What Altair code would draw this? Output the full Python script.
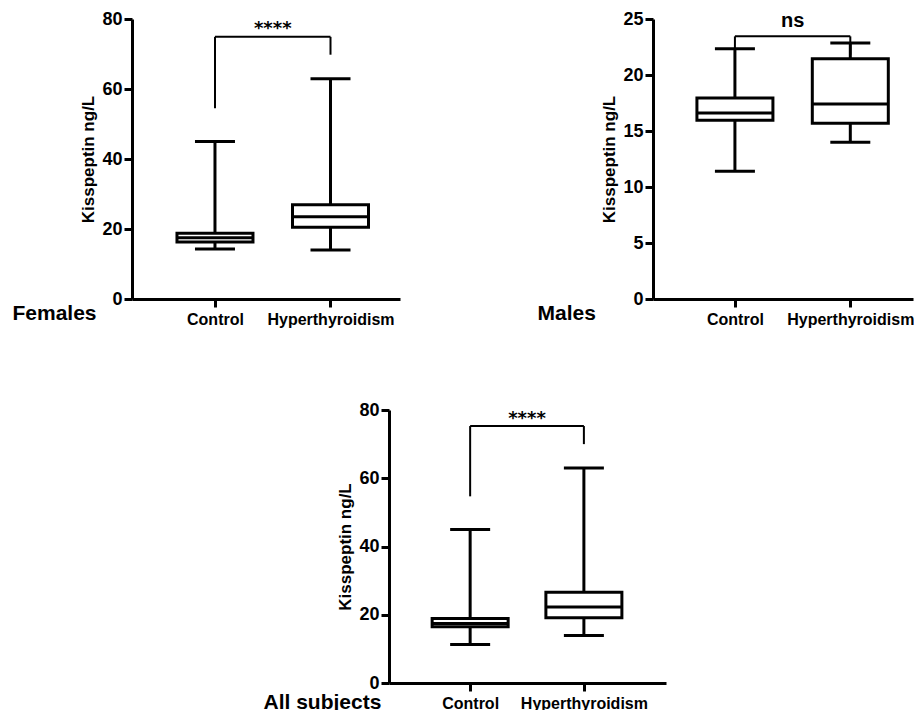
import altair as alt
import pandas as pd

groups = ["Control", "Hyperthyroidism"]
group_pos = [1, 2]

# Females: whisker low, Q1, median, Q3, whisker high
f_low = [14.3, 14.0]
f_q1 = [16.3, 20.5]
f_med = [17.5, 23.5]
f_q3 = [18.8, 26.9]
f_high = [45.0, 62.9]

# Males
m_low = [11.4, 14.0]
m_q1 = [15.95, 15.7]
m_med = [16.6, 17.4]
m_q3 = [17.95, 21.45]
m_high = [22.35, 22.85]

# All subjects
a_low = [11.3, 13.9]
a_q1 = [16.5, 19.1]
a_med = [17.4, 22.3]
a_q3 = [18.9, 26.6]
a_high = [45.0, 63.0]

panel_names = ["Females", "Males", "All subjects"]
sig_labels = ["****", "ns", "****"]
bracket_top = [74.9, 23.45, 75.3]
bracket_left_end = [54.5, 22.4, 54.7]
bracket_right_end = [69.8, 21.8, 70.0]
sig_y = [75.6, 24.3, 75.9]
y_max = [80, 25, 80]
y_ticks = [[0, 20, 40, 60, 80], [0, 5, 10, 15, 20, 25], [0, 20, 40, 60, 80]]

FONT = "Liberation Sans"
label_expr = " : ".join(
    [f"datum.value == {p} ? '{g}'" for p, g in zip(group_pos[:-1], groups[:-1])]
    + [f"'{groups[-1]}'"]
)


def panel(i, low, q1, med, q3, high, width, height, x_domain, title_x, title_y,
          sig_font, sig_size):
    df = pd.DataFrame({"group": groups, "pos": group_pos, "low": low, "q1": q1,
                       "med": med, "q3": q3, "high": high})
    br = pd.DataFrame({"x1": [group_pos[0]], "x2": [group_pos[1]],
                       "xm": [(group_pos[0] + group_pos[1]) / 2],
                       "top": [bracket_top[i]], "lend": [bracket_left_end[i]],
                       "rend": [bracket_right_end[i]], "ty": [sig_y[i]],
                       "label": [sig_labels[i]]})

    xaxis = alt.Axis(values=group_pos, labelExpr=label_expr, title=panel_names[i],
                     titleX=title_x, titleY=title_y, titleAlign="left",
                     titleBaseline="alphabetic", titleFontSize=21, titleFontWeight="bold",
                     titleAngle=0, labelAngle=0, labelFontSize=16, labelFontWeight="bold",
                     labelPadding=4, tickSize=8, tickWidth=3, domainWidth=3, grid=False,
                     domainColor="black", tickColor="black", labelColor="black",
                     titleColor="black")
    yaxis = alt.Axis(values=y_ticks[i], title="Kisspeptin ng/L", titleFontSize=17,
                     titleFontWeight="bold", titlePadding=4, labelFontSize=18,
                     labelFontWeight="bold", labelPadding=2, tickSize=8, tickWidth=3,
                     domainWidth=3, grid=False, domainColor="black", tickColor="black",
                     labelColor="black", titleColor="black")
    xs = alt.Scale(domain=x_domain, nice=False, zero=False)
    ys = alt.Scale(domain=[0, y_max[i]], nice=False, zero=False)

    def X(f):
        return alt.X(f, type="quantitative", scale=xs, axis=xaxis)

    def Y(f):
        return alt.Y(f, type="quantitative", scale=ys, axis=yaxis)

    base = alt.Chart(df)
    whisker = base.mark_rule(color="black", strokeWidth=3).encode(
        x=X("pos"), y=Y("low"), y2="high")
    box = base.mark_bar(size=76, fill="white", stroke="black", strokeWidth=3).encode(
        x=X("pos"), y=Y("q1"), y2="q3")
    median = base.mark_tick(orient="horizontal", size=76, thickness=3, color="black",
                            opacity=1).encode(x=X("pos"), y=Y("med"))
    cap_lo = base.mark_tick(orient="horizontal", size=40, thickness=3, color="black",
                            opacity=1).encode(x=X("pos"), y=Y("low"))
    cap_hi = base.mark_tick(orient="horizontal", size=40, thickness=3, color="black",
                            opacity=1).encode(x=X("pos"), y=Y("high"))

    bb = alt.Chart(br)
    b_h = bb.mark_rule(color="black", strokeWidth=2).encode(x=X("x1"), x2="x2", y=Y("top"))
    b_l = bb.mark_rule(color="black", strokeWidth=2).encode(x=X("x1"), y=Y("lend"), y2="top")
    b_r = bb.mark_rule(color="black", strokeWidth=2).encode(x=X("x2"), y=Y("rend"), y2="top")
    sig = bb.mark_text(font=sig_font, fontSize=sig_size, fontWeight="bold", color="black",
                       align="center", baseline="alphabetic").encode(
        x=X("xm"), y=Y("ty"), text="label:N")

    return alt.layer(whisker, box, median, cap_lo, cap_hi, b_h, b_l, b_r, sig).properties(
        width=width, height=height)


females = panel(0, f_low, f_q1, f_med, f_q3, f_high, 268, 280,
                [1 - 81 / 120, 1 - 81 / 120 + 268 / 120], -120, 20, "DejaVu Sans", 18)
males = panel(1, m_low, m_q1, m_med, m_q3, m_high, 260, 280,
              [1 - 80 / 120, 1 - 80 / 120 + 260 / 120], -116, 20, FONT, 20)
allsub = panel(2, a_low, a_q1, a_med, a_q3, a_high, 277, 273,
               [1 - 79 / 118, 1 - 79 / 118 + 277 / 118], -126, 25, "DejaVu Sans", 18)

spacer = alt.Chart(pd.DataFrame({"v": [0]})).mark_point(opacity=0).properties(
    width=1, height=1)

top = alt.hconcat(females, males, spacing=253, bounds="flush")
bottom = alt.hconcat(spacer, allsub, spacing=256, bounds="flush")

chart = alt.vconcat(top, bottom, spacing=74).properties(
    padding={"left": 4, "top": 2, "right": 0, "bottom": 0}
).configure(font=FONT).configure_view(
    stroke="transparent", strokeWidth=0
).configure_axis(
    domainColor="black", tickColor="black", labelColor="black", titleColor="black",
    labelFont=FONT, titleFont=FONT
)

chart.save("out.html", embed_options={"renderer": "svg", "actions": False})
